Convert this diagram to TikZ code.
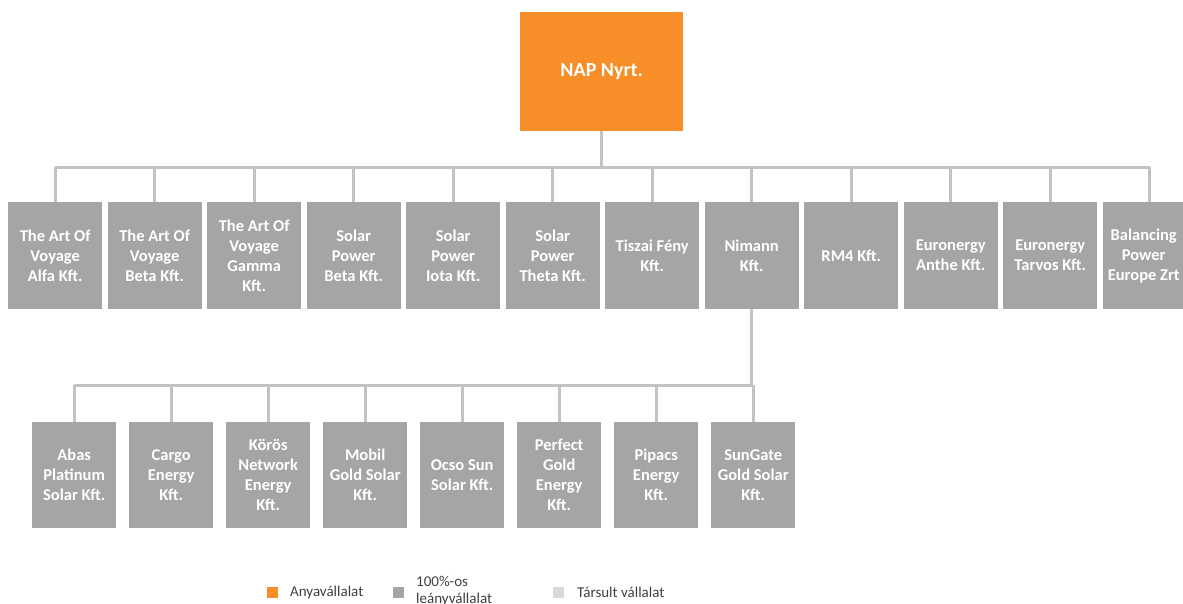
\documentclass[tikz,border=0pt]{standalone}
\usepackage{fontspec}
\setmainfont{Carlito}
\definecolor{napor}{HTML}{F78E28}
\definecolor{boxgray}{HTML}{A5A5A5}
\definecolor{linegray}{HTML}{C3C3C3}
\definecolor{lightg}{HTML}{D9D9D9}
\definecolor{legtext}{HTML}{404040}
\begin{document}
\begin{tikzpicture}[x=1pt,y=-1pt,
  sub/.style={fill=boxgray,draw=none,minimum width=94pt,minimum height=107pt,anchor=north west,
    text=white,font=\bfseries\fontsize{16.5}{20}\selectfont,align=center,inner sep=0pt},
  sub2/.style={sub,minimum width=84pt,minimum height=106pt},
  conn/.style={draw=linegray,line width=3pt},
  legbox/.style={minimum size=11pt,inner sep=0pt,anchor=north west,draw=none},
  legtxt/.style={anchor=west,text=legtext,font=\fontsize{15}{17}\selectfont,inner sep=0pt,align=left}]
\useasboundingbox (0,0) rectangle (1183,603);
\clip (0,0) rectangle (1183,603);
\node[fill=napor,minimum width=163pt,minimum height=119pt,anchor=north west,inner sep=0pt,
  text=white,font=\bfseries\fontsize{20}{22}\selectfont] (nap) at (520,12) {NAP Nyrt.};
% row 1
\node[sub] (a1) at (8,202) {The Art Of\\Voyage\\Alfa Kft.};
\node[sub] (a2) at (107.5,202) {The Art Of\\Voyage\\Beta Kft.};
\node[sub] (a3) at (207,202) {The Art Of\\Voyage\\Gamma\\Kft.};
\node[sub] (a4) at (306.5,202) {Solar\\Power\\Beta Kft.};
\node[sub] (a5) at (406,202) {Solar\\Power\\Iota Kft.};
\node[sub] (a6) at (505.5,202) {Solar\\Power\\Theta Kft.};
\node[sub] (a7) at (605,202) {Tiszai Fény\\Kft.};
\node[sub] (a8) at (704.5,202) {Nimann\\Kft.};
\node[sub] (a9) at (804,202) {RM4 Kft.};
\node[sub] (a10) at (903.5,202) {Euronergy\\Anthe Kft.};
\node[sub] (a11) at (1003,202) {Euronergy\\Tarvos Kft.};
\node[sub] (a12) at (1102.5,202) {};
\node[sub,anchor=center,minimum width=0pt,minimum height=0pt,fill=none] (a12t) at ([xshift=-6pt]a12.center) {Balancing\\Power\\Europe Zrt};
% row 2
\node[sub2] (b1) at (32,422) {Abas\\Platinum\\Solar Kft.};
\node[sub2] (b2) at (129,422) {Cargo\\Energy\\Kft.};
\node[sub2] (b3) at (226,422) {Körös\\Network\\Energy\\Kft.};
\node[sub2] (b4) at (323,422) {Mobil\\Gold Solar\\Kft.};
\node[sub2] (b5) at (420,422) {Ocso Sun\\Solar Kft.};
\node[sub2] (b6) at (517,422) {Perfect\\Gold\\Energy\\Kft.};
\node[sub2] (b7) at (614,422) {Pipacs\\Energy\\Kft.};
\node[sub2] (b8) at (711,422) {SunGate\\Gold Solar\\Kft.};
% connectors row 1
\coordinate (h1) at (0,167);
\draw[conn] (nap.south) -- (nap.south |- h1);
\draw[conn] (a1.north |- h1) -- (a12.north |- h1);
\foreach \i in {1,...,12}{\draw[conn] (a\i.north |- h1) -- (a\i.north);}
% connectors row 2
\coordinate (h2) at (0,385);
\draw[conn] (a8.south) -- (a8.south |- h2);
\draw[conn] (b1.north |- h2) -- (a8.south |- h2);
\foreach \i in {1,...,8}{\draw[conn] (b\i.north |- h2) -- (b\i.north);}
% legend
\node[legbox,fill=napor] (l1) at (267,587) {};
\node[legtxt] (t1) at (290,592) {Anyavállalat};
\node[legbox,fill=boxgray] (l2) at (393,587) {};
\node[legtxt,anchor=north west] (t2) at (416,576) {100\%-os\\leányvállalat};
\node[legbox,fill=lightg] (l3) at (553,587) {};
\node[legtxt] (t3) at (577,592) {Társult vállalat};
\end{tikzpicture}
\end{document}
